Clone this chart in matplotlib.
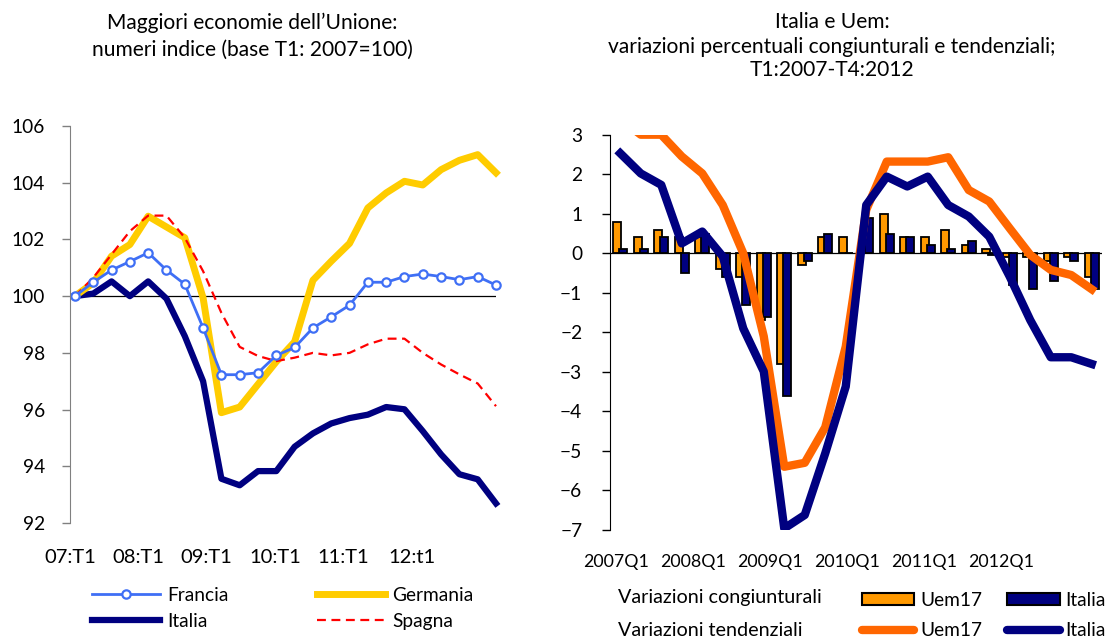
import numpy as np
import matplotlib
matplotlib.use("Agg")
import matplotlib.pyplot as plt
from matplotlib.patches import Patch
from matplotlib.lines import Line2D

plt.rcParams['font.family'] = ['Lato', 'DejaVu Sans']
plt.rcParams['font.size'] = 13.8

# left chart: index numbers, base 2007Q1 = 100
francia = [100.0, 100.49, 100.92, 101.22, 101.53, 100.92, 100.42, 98.88, 97.23, 97.23, 97.30, 97.91,
           98.19, 98.88, 99.27, 99.68, 100.49, 100.49, 100.69, 100.78, 100.69, 100.58, 100.69, 100.39]
germania = [100.0, 100.47, 101.41, 101.82, 102.82, 102.44, 102.06, 99.94, 95.89, 96.09, 96.89, 97.69,
            98.39, 100.56, 101.23, 101.86, 103.11, 103.64, 104.05, 103.92, 104.46, 104.79, 104.99, 104.35]
italia_idx = [100.0, 100.09, 100.52, 100.0, 100.52, 99.91, 98.59, 97.0, 93.56, 93.33, 93.83, 93.83,
              94.69, 95.16, 95.51, 95.70, 95.82, 96.09, 96.01, 95.24, 94.42, 93.72, 93.54, 92.69]
spagna = [100.0, 100.65, 101.47, 102.29, 102.84, 102.84, 102.06, 100.88, 99.41, 98.21, 97.89, 97.71,
          97.83, 98.0, 97.91, 98.0, 98.30, 98.50, 98.50, 98.0, 97.59, 97.24, 96.92, 96.12]
left_labels = ["07:T1", "08:T1", "09:T1", "10:T1", "11:T1", "12:t1"]

# right chart: quarterly (congiunturali) and yearly (tendenziali) % changes
uem_cong = [0.8, 0.4, 0.6, 0.4, 0.4, -0.4, -0.6, -1.7, -2.8, -0.3, 0.4, 0.4,
            0.4, 1.0, 0.4, 0.4, 0.6, 0.2, 0.1, -0.1, -0.1, -0.2, -0.1, -0.6]
ita_cong = [0.1, 0.1, 0.4, -0.5, 0.5, -0.6, -1.3, -1.6, -3.6, -0.2, 0.5, 0.0,
            0.9, 0.5, 0.4, 0.2, 0.1, 0.3, -0.05, -0.8, -0.9, -0.7, -0.2, -0.9]
uem_tend = [3.4, 3.0, 3.0, 2.45, 2.02, 1.22, 0.0, -2.1, -5.4, -5.3, -4.4, -2.36,
            1.1, 2.32, 2.32, 2.32, 2.43, 1.6, 1.31, 0.63, -0.04, -0.42, -0.55, -0.91]
ita_tend = [2.53, 2.02, 1.73, 0.25, 0.55, -0.08, -1.9, -2.99, -6.96, -6.62, -5.06, -3.37,
            1.22, 1.94, 1.69, 1.94, 1.22, 0.93, 0.42, -0.59, -1.69, -2.63, -2.63, -2.8]
right_labels = ["2007Q1", "2008Q1", "2009Q1", "2010Q1", "2011Q1", "2012Q1"]

x = np.arange(len(francia))

fig = plt.figure(figsize=(11.13, 6.39), dpi=100)

# ---- left chart
ax1 = fig.add_axes([70/1113, 1-523/639, 426/1113, 397/639])
ax1.axhline(100, color="black", lw=0.9)
ax1.plot(x, italia_idx, color="#000080", lw=4.5, label="Italia", clip_on=False)
ax1.plot(x, germania, color="#FFCC00", lw=5, label="Germania", clip_on=False)
ax1.plot(x, spagna, color="#FF0000", lw=1.6, ls=(0, (4, 2.5)), label="Spagna", clip_on=False)
ax1.plot(x, francia, color="#3F6FF5", lw=2, marker="o", ms=6, mfc="white", mew=1.6,
         label="Francia", clip_on=False)
ax1.set_xlim(0, 23)
ax1.set_ylim(92, 106)
ax1.set_yticks(np.arange(92, 107, 2))
ax1.set_xticks(np.arange(6) * 3.73 - 0.27, left_labels)
ax1.tick_params(axis="x", length=0, pad=19, labelsize=14.5)
ax1.tick_params(axis="y", length=6, width=1, color="#808080", pad=12)
for s in ["top", "right", "bottom"]:
    ax1.spines[s].set_visible(False)
ax1.spines["left"].set_color("#808080")
ax1.set_facecolor("none")

h = {l.get_label(): l for l in ax1.get_lines()}
fig.legend([h["Francia"], h["Italia"], h["Germania"], h["Spagna"]],
           ["Francia", "Italia", "Germania", "Spagna"], ncol=2,
           loc="upper left", bbox_to_anchor=(82/1113, 1-577/639), frameon=False,
           handlelength=3.55, handletextpad=0.4, columnspacing=4.6, labelspacing=0.5,
           borderpad=0)

fig.text(252/1113, 1-23/639, "Maggiori economie dell\u2019Unione:", ha="center", va="center", fontsize=15.1)
fig.text(252/1113, 1-50/639, "numeri indice (base T1: 2007=100)", ha="center", va="center", fontsize=15.1)

# ---- right chart
ax2 = fig.add_axes([610/1113, 1-530/639, 492/1113, 395.3/639])
ax2.axhline(0, color="black", lw=0.9, zorder=1)
bw = 0.4
ax2.bar(x - 0.146, uem_cong, bw, color="#FF9900", edgecolor="black", lw=1.3, zorder=2)
ax2.bar(x + 0.146, ita_cong, bw, color="#000080", edgecolor="black", lw=1.3, zorder=2)
ax2.plot(x, uem_tend, color="#FF6600", lw=6, zorder=3)
ax2.plot(x, ita_tend, color="#000080", lw=6, zorder=4)
ax2.set_xlim(-0.5, 23.5)
ax2.set_ylim(-7, 3)
ax2.set_yticks(np.arange(-7, 4, 1))
ax2.set_xticks(np.arange(6) * 3.75 - 0.19, right_labels)
ax2.tick_params(axis="x", length=0, pad=17, labelsize=12.8)
ax2.tick_params(axis="y", length=6, width=1, pad=14)
for s in ["top", "right", "bottom"]:
    ax2.spines[s].set_visible(False)
ax2.set_facecolor("none")

fig.text(832/1113, 1-22/639, "Italia e Uem:", ha="center", va="center", fontsize=15.1)
fig.text(832/1113, 1-47/639, "variazioni percentuali congiunturali e tendenziali;", ha="center", va="center", fontsize=15.1)
fig.text(832/1113, 1-70/639, "T1:2007-T4:2012", ha="center", va="center", fontsize=15.1)

fig.text(618/1113, 1-598/639, "Variazioni congiunturali", ha="left", va="center", fontsize=14.2)
fig.text(618/1113, 1-630/639, "Variazioni tendenziali", ha="left", va="center", fontsize=14.2)
rh = [Patch(facecolor="#FF9900", edgecolor="black", lw=1.5),
      Line2D([], [], color="#FF6600", lw=6, solid_capstyle="round"),
      Patch(facecolor="#000080", edgecolor="black", lw=1.5),
      Line2D([], [], color="#000080", lw=6, solid_capstyle="round")]
fig.legend(rh, ["Uem17", "Uem17", "Italia", "Italia"], ncol=2,
           loc="upper left", bbox_to_anchor=(852/1113, 1-582/639), frameon=False,
           handlelength=2.75, handleheight=0.55, handletextpad=0.3, columnspacing=1.3,
           labelspacing=0.72, borderpad=0)

fig.savefig("out.png", dpi=100)
